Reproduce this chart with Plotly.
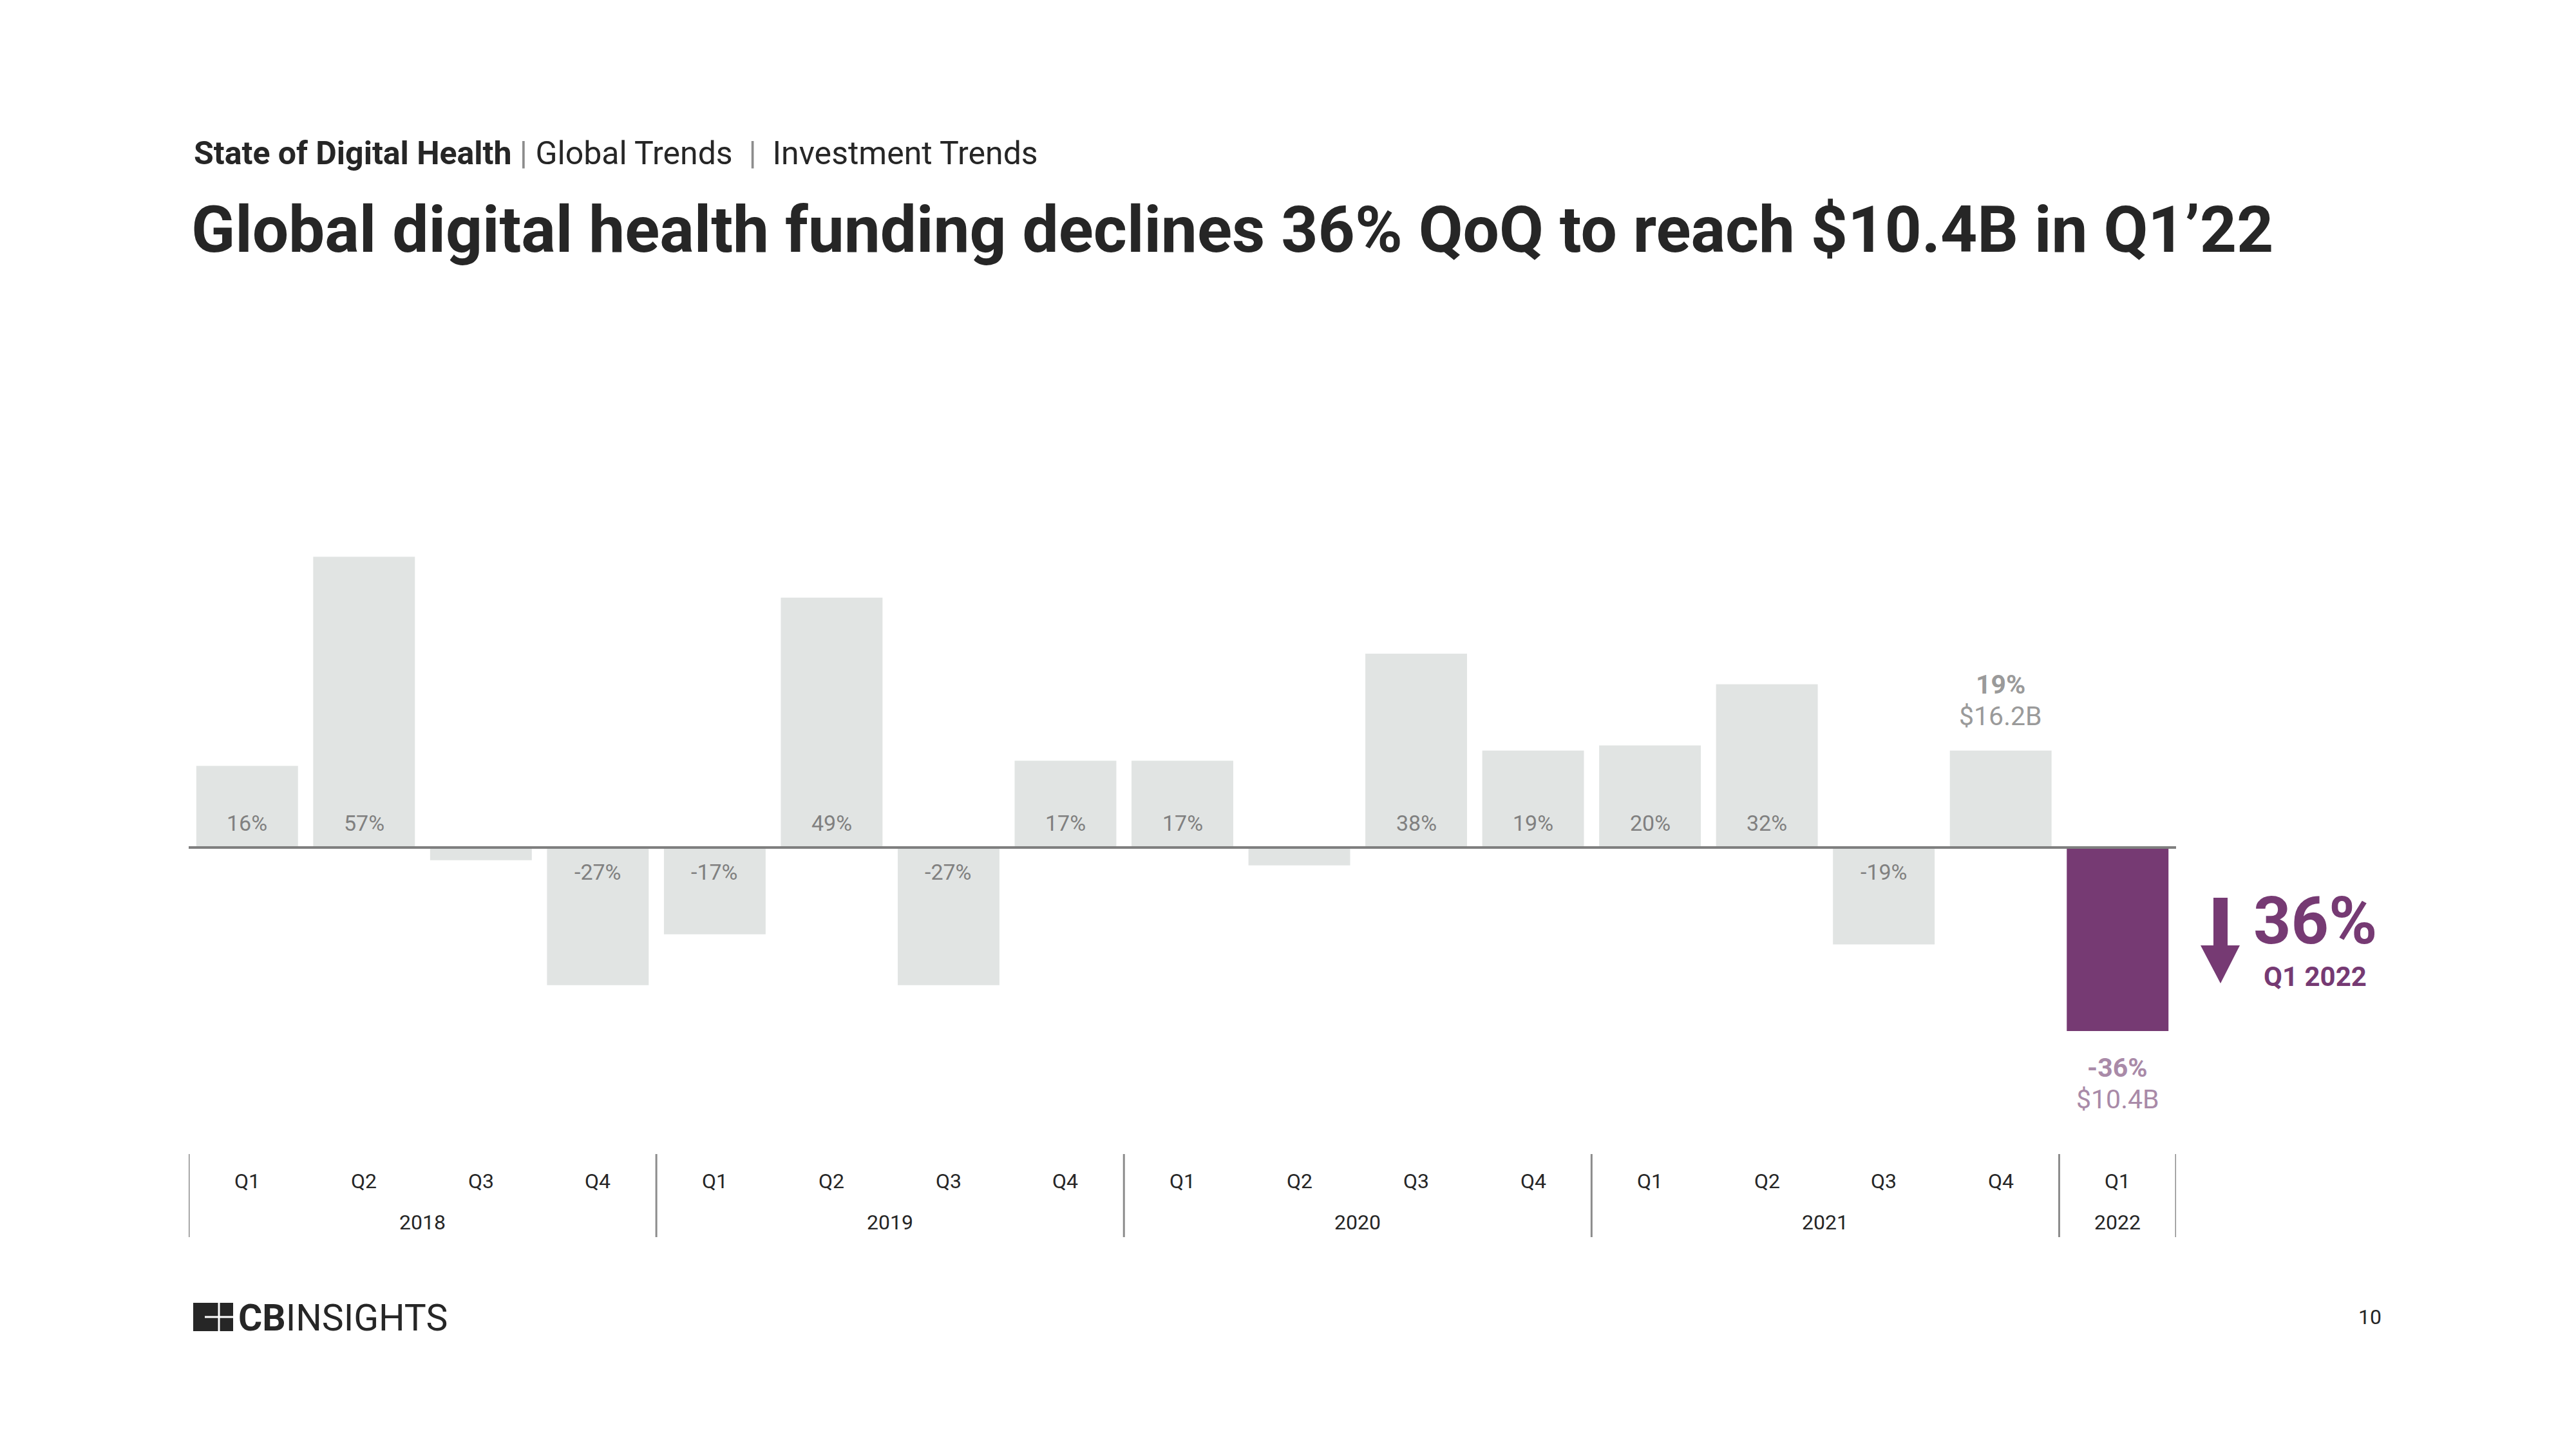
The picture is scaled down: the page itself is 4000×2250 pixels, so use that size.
import plotly.graph_objects as go

# ---- data ----
quarters = ["Q1", "Q2", "Q3", "Q4", "Q1", "Q2", "Q3", "Q4", "Q1", "Q2", "Q3", "Q4",
            "Q1", "Q2", "Q3", "Q4", "Q1"]
years = ["2018", "2019", "2020", "2021", "2022"]
year_quarter_counts = [4, 4, 4, 4, 1]
growth = [16, 57, -2.5, -27, -17, 49, -27, 17, 17, -3.5, 38, 19, 20, 32, -19, 19, -36]
bar_labels = ["16%", "57%", "", "-27%", "-17%", "49%", "-27%", "17%", "17%", "",
              "38%", "19%", "20%", "32%", "-19%", "", ""]
highlight_funding = {15: "$16.2B", 16: "$10.4B"}

W, H = 4000, 2250
FONT = "Roboto"
GREY_BAR = "#E1E4E3"
PURPLE = "#763A73"
LIGHT_PURPLE = "#A98AA8"
LABEL_GREY = "#808080"
DARK = "#262626"


def px(x):
    return x / W


def py(y):
    return 1 - y / H


def txt(x, y, text, size, color=DARK, xanchor="center", xref="paper", yref="paper", **kw):
    d = dict(x=x, y=y, xref=xref, yref=yref, text=text, showarrow=False,
             xanchor=xanchor, yanchor="middle",
             font=dict(family=FONT, size=size, color=color))
    d.update(kw)
    return d


x_idx = list(range(len(growth)))
colors = [GREY_BAR] * (len(growth) - 1) + [PURPLE]

fig = go.Figure()
fig.add_trace(go.Bar(x=x_idx, y=growth, marker=dict(color=colors, line=dict(width=0)),
                     width=0.87, hoverinfo="skip"))

annotations = []
shapes = []

# bar labels near baseline
for i, lab in enumerate(bar_labels):
    if lab:
        annotations.append(txt(i, 0, lab, 34, LABEL_GREY, xref="x", yref="y",
                               yshift=38 if growth[i] > 0 else -38))

# highlight labels
i = 15
annotations.append(txt(i, growth[i], f"<b>{growth[i]}%</b>", 41, "#9A9A9A",
                       xref="x", yref="y", yshift=103))
annotations.append(txt(i, growth[i], highlight_funding[i], 41, "#9A9A9A",
                       xref="x", yref="y", yshift=54))
i = 16
annotations.append(txt(i, growth[i], f"<b>{growth[i]}%</b>", 41, LIGHT_PURPLE,
                       xref="x", yref="y", yshift=-57))
annotations.append(txt(i, growth[i], highlight_funding[i], 41, LIGHT_PURPLE,
                       xref="x", yref="y", yshift=-106))

# baseline
shapes.append(dict(type="line", xref="x", yref="y", x0=-0.5, x1=len(growth) - 0.5, y0=0, y1=0,
                   line=dict(color="#7F7F7F", width=4), layer="above"))

# category axis labels
for i, q in enumerate(quarters):
    annotations.append(txt(i, py(1834), q, 32, DARK, xref="x"))
start = 0
bounds = [-0.5]
for yr, n in zip(years, year_quarter_counts):
    center = start + (n - 1) / 2
    annotations.append(txt(center, py(1898), yr, 32, DARK, xref="x"))
    start += n
    bounds.append(start - 0.5)
for b in bounds:
    shapes.append(dict(type="line", xref="x", yref="paper", x0=b, x1=b, y0=py(1792), y1=py(1921),
                       line=dict(color="#8C8C8C", width=3)))

# header & title
annotations.append(txt(px(299), py(238),
                       "<b>State of Digital Health</b> <span style='color:#8C8C8C'>|</span> Global Trends \u00a0<span style='color:#8C8C8C'>|</span>\u00a0 Investment Trends",
                       50, DARK, xanchor="left"))
annotations.append(txt(px(295), py(356),
                       "<b>Global digital health funding declines 36% QoQ to reach $10.4B in Q1\u201922</b>",
                       100, DARK, xanchor="left"))

# right-side callout
annotations.append(txt(px(3595), py(1430), "<b>36%</b>", 102, PURPLE))
annotations.append(txt(px(3595), py(1517), "<b>Q1 2022</b>", 42, PURPLE))
arrow_pts = [(3437, 1394), (3459, 1394), (3459, 1468), (3478, 1468), (3448, 1527),
             (3417, 1468), (3437, 1468)]
path = "M " + " L ".join(f"{px(a):.5f},{py(b):.5f}" for a, b in arrow_pts) + " Z"
shapes.append(dict(type="path", xref="paper", yref="paper", path=path,
                   fillcolor=PURPLE, line=dict(width=0)))

# logo
shapes.append(dict(type="rect", xref="paper", yref="paper", x0=px(300), x1=px(362),
                   y0=py(2067), y1=py(2023), fillcolor=DARK, line=dict(width=0)))
shapes.append(dict(type="line", xref="paper", yref="paper", x0=px(318), x1=px(362),
                   y0=py(2045), y1=py(2045), line=dict(color="white", width=3)))
shapes.append(dict(type="line", xref="paper", yref="paper", x0=px(340), x1=px(340),
                   y0=py(2023), y1=py(2067), line=dict(color="white", width=3)))
annotations.append(txt(px(368), py(2046), "<b>CB</b>INSIGHTS", 57, DARK, xanchor="left"))
annotations.append(txt(px(3680), py(2045), "10", 32, DARK))

fig.update_layout(
    width=W, height=H,
    margin=dict(l=0, r=0, t=0, b=0, pad=0),
    paper_bgcolor="white", plot_bgcolor="white",
    showlegend=False,
    bargap=0.13,
    xaxis=dict(visible=False, range=[-0.5, len(growth) - 0.5], domain=[293 / W, 3379 / W],
               fixedrange=True),
    yaxis=dict(visible=False, range=[-60, 80], domain=[1 - 1791.2 / H, 1 - 682.4 / H],
               fixedrange=True),
    annotations=annotations,
    shapes=shapes,
)

fig.write_html("out.html", config={"displayModeBar": False},
               post_script="document.body.style.margin='0';")
